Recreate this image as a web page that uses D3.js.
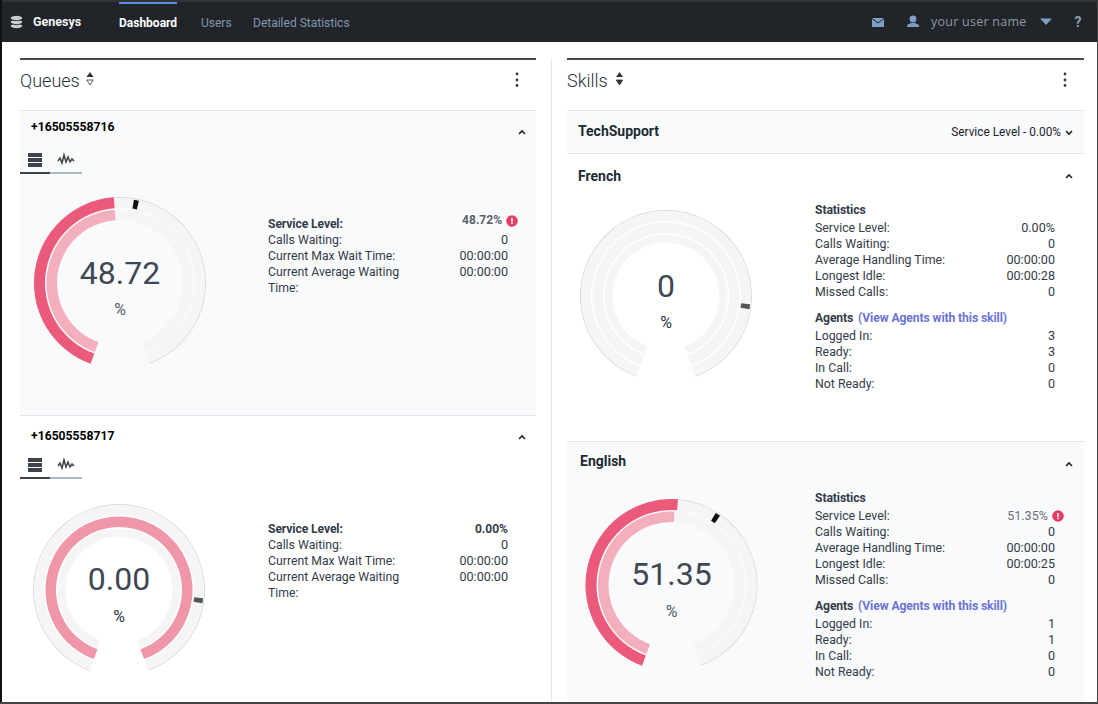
<!DOCTYPE html>
<html><head><meta charset="utf-8">
<script src="https://cdn.jsdelivr.net/npm/d3@7"></script>
<style>html,body{margin:0;padding:0;background:#fff;overflow:hidden}svg{display:block;font-family:Roboto,sans-serif}</style>
</head><body><svg id="c" width="1098" height="704"></svg>
<script>
const navItems = ["Dashboard","Users","Detailed Statistics"];
const queueNames = ["+16505558716","+16505558717"];
const queueLabels = ["Service Level:","Calls Waiting:","Current Max Wait Time:","Current Average Waiting","Time:"];
const queueValues = [["48.72%","0","00:00:00","00:00:00",""],["0.00%","0","00:00:00","00:00:00",""]];
const skillNames = ["French","English"];
const statLabels = ["Service Level:","Calls Waiting:","Average Handling Time:","Longest Idle:","Missed Calls:"];
const statValues = [["0.00%","0","00:00:00","00:00:28","0"],["51.35%","0","00:00:00","00:00:25","0"]];
const agentLabels = ["Logged In:","Ready:","In Call:","Not Ready:"];
const agentValues = [["3","3","0","0"],["1","1","0","0"]];
const gaugeLabels = ["48.72","0.00","0","51.35"];
const gaugeOuter = [48.72,0,0,51.35];
const gaugeMiddle = [48.7,100,0,50.7];
const gaugeMarker = [53.5,80.4,80.4,60.4];

const svg = d3.select("#c");
const ink="#343c48";
const cardBg="#f9fafc";
function T(x,y,s,o={}){
  return svg.append("text").attr("x",x).attr("y",y).text(s)
   .attr("font-size",o.size||12.25).attr("font-weight",o.weight||400).attr("fill",o.fill||ink)
   .attr("text-anchor",o.anchor||"start").attr("font-family",o.family||null)
   .attr("letter-spacing",o.ls||null);
}
function R(x,y,w,h,f){return svg.append("rect").attr("x",x).attr("y",y).attr("width",w).attr("height",h).attr("fill",f);}

// Cards
R(20,110,516,305,cardBg);
R(567,110,517,43,cardBg);
R(567,441,517,263,cardBg);
[[20,536,110],[20,536,415],[567,1084,110],[567,1084,153],[567,1084,441]].forEach(([a,b,y])=>R(a,y,b-a,1,"#e3e6ea"));
R(551,58,1,646,"#e6e8eb");
[[20,516],[567,517]].forEach(([x,w])=>R(x,58,w,2,"#464b53"));

// Header
R(0,2,1098,40,"#212429");
R(119,2,58,2,"#5b8ede");
const navX=[119,201,253];
navItems.forEach((n,i)=>T(navX[i],27,n,{weight:i?400:700,fill:i?"#8297ae":"#fff",size:12}));
T(33,26,"Genesys",{weight:700,fill:"#f2f4f6",size:12.5});
[26,22,18].forEach(y=>svg.append("ellipse").attr("cx",16.5).attr("cy",y).attr("rx",6.2).attr("ry",2.6).attr("fill","#c9ccd0").attr("stroke","#212429").attr("stroke-width",.9));
// envelope
R(872,18,12,9,"#7b9fc6");
svg.append("path").attr("d","M872 18.5L878 23L884 18.5").attr("fill","none").attr("stroke","#212429").attr("stroke-width",1);
// user
svg.append("circle").attr("cx",913).attr("cy",19).attr("r",3.4).attr("fill","#7b9fc6");
svg.append("path").attr("d","M907 27L907 25L911 23L915 23L919 25L919 27Z").attr("fill","#7b9fc6");
T(931,26,"your user name",{size:12.5,fill:"#8e9aa6",ls:0.25,family:"'Open Sans',sans-serif"});
svg.append("path").attr("d","M1040 18.5H1052L1046 25Z").attr("fill","#7b9fc6");
T(1078,27,"?",{size:14,weight:700,fill:"#8e9fb0",anchor:"middle"});

// Section heads
T(20,87,"Queues",{size:18,weight:300,fill:"#2b323c"});
T(567,87,"Skills",{size:18,weight:300,fill:"#2b323c"});
function sortIcon(x,filledLower){
  svg.append("path").attr("d",`M${x-3.5} 77L${x} 72L${x+3.5} 77Z`).attr("fill","#333");
  svg.append("path").attr("d",`M${x-3.2} 80L${x} 85L${x+3.2} 80Z`).attr("fill",filledLower?"#333":"#fff").attr("stroke","#333").attr("stroke-width",.8);
}
sortIcon(90,false);sortIcon(619.5,true);
[517,1065].forEach(x=>[74,80,85.5].forEach(y=>svg.append("circle").attr("cx",x).attr("cy",y).attr("r",1.4).attr("fill","#333a44")));

function chevron(x,y,up,w=3){
  svg.append("path").attr("d",up?`M${x-w} ${y+2}L${x} ${y-1}L${x+w} ${y+2}`:`M${x-w} ${y-1}L${x} ${y+2}L${x+w} ${y-1}`)
   .attr("fill","none").attr("stroke","#222").attr("stroke-width",1.6);
}
[[522,132],[522,437],[1069,176],[1069,464]].forEach(([x,y])=>chevron(x,y,true));
chevron(1069,132,false);

// Titles
T(31,131,queueNames[0],{weight:700,size:12.2,fill:"#000"});
T(31,440,queueNames[1],{weight:700,size:12.2,fill:"#000"});
T(578,136,"TechSupport",{weight:700,size:14,fill:"#222a33"});
T(578,181,skillNames[0],{weight:700,size:14,fill:"#222a33"});
T(580,466,skillNames[1],{weight:700,size:14,fill:"#222a33"});
T(1061,136,"Service Level - 0.00%",{anchor:"end",size:11.85,fill:"#1d232b"});

// tabs
[153,458].forEach(y=>{
  [0,5,10].forEach(d=>R(28,y+d,14,4,"#3d434b"));
  R(20,y+19,30,2,"#3d434b");
  R(50,y+19,32,2,"#aab9c8");
  svg.append("path").attr("d",`M58 ${y+8}L60 ${y+5}L62 ${y+10}L64 ${y+2}L66 ${y+9}L68 ${y+4}L70 ${y+9}L72 ${y+6}L74 ${y+8}`)
   .attr("fill","none").attr("stroke","#3d434b").attr("stroke-width",1.5);
});

// Gauges
const angle=d3.scaleLinear().domain([0,100]).range([-160*Math.PI/180,160*Math.PI/180]);
const arc=d3.arc();
const gaugeCx=[120,119,666,671.5], gaugeCy=[283,590,296,585];
const textBase=[284,590,297,585], pctBase=[315,622,328,617];
const pctFill=["#555c66","#2c3440","#2c3440","#555c66"];
const thirdFill=[cardBg,"#f5f5f5","#f5f5f5",cardBg];
const markerFill=["#111","#555","#555","#111"];
const outerFill=["#ec5a7b","#ec5a7b","#ec5a7b","#ec5a7b"];
const midFill=["#f3afbe","#ef97a9","#f3afbe","#f3afbe"];
gaugeLabels.forEach((lab,i)=>{
  const g=svg.append("g").attr("transform",`translate(${gaugeCx[i]},${gaugeCy[i]})`);
  const band=(r0,r1,v,fill)=>g.append("path").attr("d",arc({innerRadius:r0,outerRadius:r1,startAngle:angle(0),endAngle:angle(v)})).attr("fill",fill);
  band(85,86,100,"#d9d9d9");
  band(75,85,100,"#f5f5f5");
  band(63,73.5,100,"#f5f5f5");
  band(53.5,61.5,100,thirdFill[i]);
  if(gaugeOuter[i]>0) band(75,86,gaugeOuter[i],outerFill[i]);
  if(gaugeMiddle[i]>0) band(63,73.5,gaugeMiddle[i],midFill[i]);
  const a=angle(gaugeMarker[i]), w=0.03;
  g.append("path").attr("d",arc({innerRadius:75.5,outerRadius:84.5,startAngle:a-w,endAngle:a+w})).attr("fill",markerFill[i]);
  T(gaugeCx[i],textBase[i],lab,{anchor:"middle",size:32,fill:"#3f4753"});
  T(gaugeCx[i],pctBase[i],"%",{anchor:"middle",size:16,fill:pctFill[i]});
});

// Queue rows
const boldRow={weight:700,size:12.2,ls:-0.12};
const alertIcon=(x,y)=>{
  svg.append("circle").attr("cx",x).attr("cy",y).attr("r",5.8).attr("fill","#e63e62");
  R(x-.8,y-3,1.6,3.8,"#fff");R(x-.8,y+1.6,1.6,1.5,"#fff");
};
const qRowY=[[228,244,260,276,292],[533,549,565,581,597]];
queueNames.forEach((_,q)=>{
  queueLabels.forEach((l,i)=>T(268,qRowY[q][i],l,i==0?boldRow:{size:12.25}));
  queueValues[q].forEach((v,i)=>{
    if(!v) return;
    const alert=(q==0&&i==0);
    T(alert?502:508,alert?224:qRowY[q][i],v,{anchor:"end",weight:i==0?700:400,fill:alert?"#5a616b":ink,size:i==0?12:12.6});
  });
});
alertIcon(512,221);

// Skill rows
const statTop=[214,502], stat=[[232,248,264,280,296],[520,536,552,568,584]];
const agTop=[322,610], ag=[[340,356,372,388],[628,644,660,676]];
skillNames.forEach((_,s)=>{
  T(815,statTop[s],"Statistics",boldRow);
  statLabels.forEach((l,i)=>T(815,stat[s][i],l,{size:12.35}));
  statValues[s].forEach((v,i)=>{
    const alert=(s==1&&i==0);
    T(alert?1048:1055,stat[s][i],v,{anchor:"end",fill:alert?"#6a7078":ink,size:12.6});
  });
  T(815,agTop[s],"Agents",boldRow);
  T(858,agTop[s],"(View Agents with this skill)",{...boldRow,fill:"#6a74d6"});
  agentLabels.forEach((l,i)=>T(815,ag[s][i],l,{size:12.35}));
  agentValues[s].forEach((v,i)=>T(1055,ag[s][i],v,{anchor:"end",size:12.6}));
});
alertIcon(1058,516);

// Frame
R(0,0,1098,2,"#333");R(0,0,2,704,"#111");R(1097,0,1,704,"#444");R(0,702,1098,2,"#444");
</script></body></html>
